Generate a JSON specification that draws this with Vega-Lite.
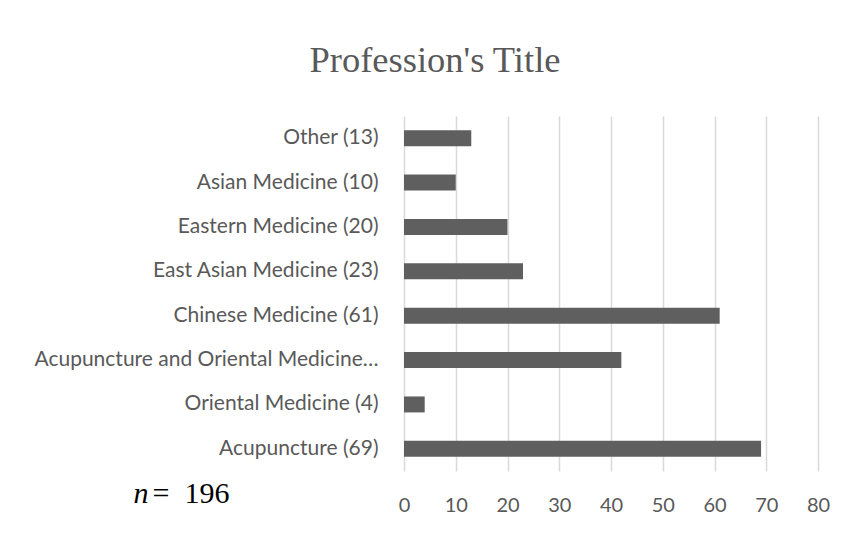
{
  "$schema": "https://vega.github.io/schema/vega-lite/v6.json",
  "width": 414,
  "height": 355,
  "padding": {"left": 33, "top": 42, "right": 10, "bottom": 10},
  "background": "white",
  "title": {
    "text": "Profession's Title",
    "font": "Liberation Serif",
    "fontSize": 36.5,
    "fontWeight": "normal",
    "color": "#595959",
    "anchor": "middle",
    "frame": "group",
    "dx": -176,
    "offset": 37
  },
  "data": {
    "values": [
      {"title": "Other (13)", "count": 13},
      {"title": "Asian Medicine (10)", "count": 10},
      {"title": "Eastern Medicine (20)", "count": 20},
      {"title": "East Asian Medicine (23)", "count": 23},
      {"title": "Chinese Medicine (61)", "count": 61},
      {"title": "Acupuncture and Oriental Medicine (42)", "count": 42},
      {"title": "Oriental Medicine (4)", "count": 4},
      {"title": "Acupuncture (69)", "count": 69}
    ]
  },
  "mark": {"type": "bar", "color": "#5f5f5f"},
  "encoding": {
    "y": {
      "field": "title",
      "type": "nominal",
      "sort": null,
      "scale": {"paddingInner": 0.64, "paddingOuter": 0.32},
      "axis": {
        "title": "n",
        "titleFont": "Liberation Serif",
        "titleFontStyle": "italic",
        "titleFontWeight": "normal",
        "titleFontSize": 30,
        "titleColor": "#000000",
        "titleAngle": 0,
        "titleAlign": "left",
        "titleBaseline": "alphabetic",
        "titleX": -271,
        "titleY": 386,
        "domain": false,
        "ticks": false,
        "grid": false,
        "labelFont": "Lato",
        "labelFontSize": 21,
        "labelColor": "#595959",
        "labelPadding": 26,
        "labelLimit": 346
      }
    },
    "x": {
      "field": "count",
      "type": "quantitative",
      "scale": {"domain": [0, 80], "nice": false},
      "axis": {
        "values": [0, 10, 20, 30, 40, 50, 60, 70, 80],
        "title": "=\u00a0\u00a0196",
        "titleFont": "Liberation Serif",
        "titleFontWeight": "normal",
        "titleFontSize": 30,
        "titleColor": "#000000",
        "titleAlign": "left",
        "titleAnchor": "start",
        "titleBaseline": "alphabetic",
        "titleX": -252,
        "titleY": 31,
        "domain": false,
        "ticks": false,
        "grid": true,
        "gridColor": "#d9d9d9",
        "gridWidth": 1.5,
        "labelFont": "Lato",
        "labelFontSize": 20,
        "labelColor": "#595959",
        "labelPadding": 24,
        "labelFlush": false,
        "labelOverlap": false
      }
    }
  },
  "config": {
    "view": {"stroke": null}
  }
}
